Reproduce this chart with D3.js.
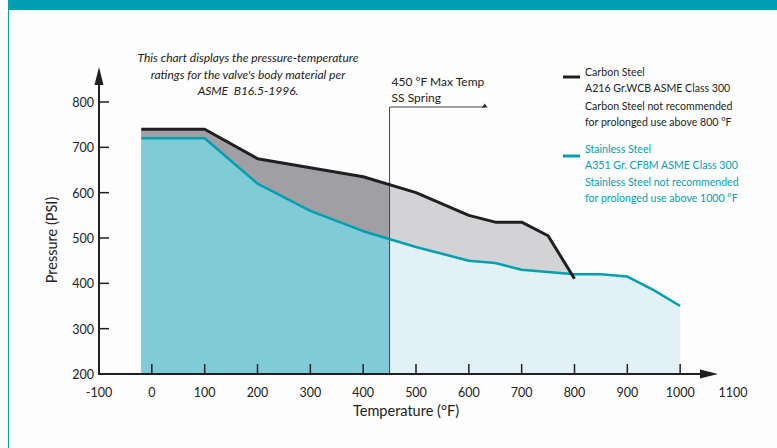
<!DOCTYPE html>
<html>
<head>
<meta charset="utf-8">
<script src="https://cdn.jsdelivr.net/npm/d3@7"></script>
<style>
	body { margin: 0; background: #fdfdfd; }
	svg text { font-family: Lato, "Open Sans", sans-serif; white-space: pre; }
</style>
</head>
<body>
<div id="chart"></div>
<script>
// pressure-temperature ratings, ASME class 300
var temps = [-20, 100, 200, 300, 400, 500, 600, 650, 700, 750, 800, 850, 900, 950, 1000];
var carbonTemps = [-20, 100, 200, 300, 400, 500, 600, 650, 700, 750, 800];
var carbonPsi = [740, 740, 675, 655, 635, 600, 550, 535, 535, 505, 410];
var stainlessPsi = [720, 720, 620, 560, 515, 480, 450, 445, 430, 425, 420, 420, 415, 385, 350];
var xTicks = [-100, 0, 100, 200, 300, 400, 500, 600, 700, 800, 900, 1000, 1100];
var yTicks = [200, 300, 400, 500, 600, 700, 800];
var springTemp = 450;

var noteLines = ["This chart displays the pressure-temperature",
	"ratings for the valve's body material per",
	"ASME  B16.5-1996."];
var carbonLegend = ["Carbon Steel", "A216 Gr.WCB ASME Class 300",
	"Carbon Steel not recommended", "for prolonged use above 800 °F"];
var stainlessLegend = ["Stainless Steel", "A351 Gr. CF8M ASME Class 300",
	"Stainless Steel not recommended", "for prolonged use above 1000 °F"];

var width = 777,
	height = 448;

var teal = '#00a0b2';

var svg = d3.select('#chart').append('svg')
	.attr('width', width)
	.attr('height', height);

// frame
svg.append('rect').attr('x', 8).attr('y', 0).attr('width', width - 8).attr('height', 10).style('fill', teal);
svg.append('line').attr('x1', 8.5).attr('x2', 8.5).attr('y1', 0).attr('y2', height)
	.style('stroke', teal).style('stroke-width', 1);

var x = d3.scaleLinear().domain([-100, 1100]).range([99, 733]);
var y = d3.scaleLinear().domain([200, 800]).range([374, 102]);

var carbon = carbonTemps.map(function (t, i) { return [t, carbonPsi[i]]; });
var stainless = temps.map(function (t, i) { return [t, stainlessPsi[i]]; });

var defs = svg.append('defs');
defs.append('clipPath').attr('id', 'left-part').append('rect')
	.attr('x', 0).attr('y', 0).attr('width', x(springTemp)).attr('height', height);

var area = d3.area()
	.x(function (d) { return x(d[0]); })
	.y0(y(200))
	.y1(function (d) { return y(d[1]); });

var line = d3.line()
	.x(function (d) { return x(d[0]); })
	.y(function (d) { return y(d[1]); });

// light versions, then darker part left of the spring limit
svg.append('path').attr('d', area(carbon)).style('fill', '#d3d3d5');
svg.append('path').attr('d', area(carbon)).style('fill', '#a0a0a4').attr('clip-path', 'url(#left-part)');
svg.append('path').attr('d', area(stainless)).style('fill', '#e1f1f5');
svg.append('path').attr('d', area(stainless)).style('fill', '#7fccd6').attr('clip-path', 'url(#left-part)');

// spring limit marker
var markY = 107;
svg.append('path')
	.attr('d', 'M' + x(springTemp) + ',' + y(200) + 'V' + markY + 'H' + x(630))
	.style('fill', 'none').style('stroke', '#444').style('stroke-width', 1);
svg.append('path')
	.attr('d', 'M' + (x(630) - 3) + ',' + (markY + 0.5) + 'l3,-4l3,4z')
	.style('fill', '#333');
svg.append('text').attr('x', x(springTemp) + 2).attr('y', 86).text('450 °F Max Temp')
	.style('font-size', '12px').style('fill', '#222');
svg.append('text').attr('x', x(springTemp) + 2).attr('y', 102).text('SS Spring')
	.style('font-size', '12px').style('fill', '#222');

svg.append('path').attr('d', line(stainless))
	.style('fill', 'none').style('stroke', teal).style('stroke-width', 2.5).style('stroke-linejoin', 'round');
svg.append('path').attr('d', line(carbon))
	.style('fill', 'none').style('stroke', '#231f20').style('stroke-width', 3).style('stroke-linejoin', 'round');

// axes
var axisColor = '#231f20';
svg.append('line').attr('x1', x(-100)).attr('x2', 703).attr('y1', y(200)).attr('y2', y(200))
	.style('stroke', axisColor).style('stroke-width', 2);
svg.append('path').attr('d', 'M700,' + (y(200) - 4.5) + 'L718,' + y(200) + 'L700,' + (y(200) + 4.5) + 'z')
	.style('fill', axisColor);
svg.append('line').attr('x1', x(-100)).attr('x2', x(-100)).attr('y1', y(200) + 1).attr('y2', 82)
	.style('stroke', axisColor).style('stroke-width', 2);
svg.append('path').attr('d', 'M' + (x(-100) - 4.5) + ',85L' + x(-100) + ',67L' + (x(-100) + 4.5) + ',85z')
	.style('fill', axisColor);

svg.selectAll('.xtick').data(xTicks.filter(function (t) { return t > -100 && t < 1100; }))
	.enter().append('line')
	.attr('x1', function (d) { return x(d); })
	.attr('x2', function (d) { return x(d); })
	.attr('y1', y(200))
	.attr('y2', y(200) - 10)
	.style('stroke', axisColor).style('stroke-width', 1.5);

svg.selectAll('.xlabel').data(xTicks)
	.enter().append('text')
	.attr('x', function (d) { return x(d); })
	.attr('y', 397)
	.attr('text-anchor', 'middle')
	.style('font-size', '12.5px').style('fill', '#222')
	.text(function (d) { return d; });

svg.selectAll('.ytick').data(yTicks.filter(function (t) { return t > 200; }))
	.enter().append('line')
	.attr('x1', x(-100))
	.attr('x2', x(-100) + 10)
	.attr('y1', function (d) { return y(d); })
	.attr('y2', function (d) { return y(d); })
	.style('stroke', axisColor).style('stroke-width', 1.5);

svg.selectAll('.ylabel').data(yTicks)
	.enter().append('text')
	.attr('x', x(-100) - 5)
	.attr('y', function (d) { return y(d) + 5; })
	.attr('text-anchor', 'end')
	.style('font-size', '12.5px').style('fill', '#222')
	.text(function (d) { return d; });

svg.append('text').attr('x', 406).attr('y', 416).attr('text-anchor', 'middle')
	.style('font-size', '14.5px').style('fill', '#222').text('Temperature (°F)');
svg.append('text').attr('transform', 'translate(57,240) rotate(-90)').attr('text-anchor', 'middle')
	.style('font-size', '14.5px').style('fill', '#222').text('Pressure (PSI)');

// note
svg.selectAll('.note').data(noteLines)
	.enter().append('text')
	.attr('x', 248)
	.attr('y', function (d, i) { return 62 + i * 16.5; })
	.attr('text-anchor', 'middle')
	.style('font-size', '12px').style('font-style', 'italic').style('fill', '#222')
	.text(function (d) { return d; });

// legend
svg.append('line').attr('x1', 563).attr('x2', 580).attr('y1', 77).attr('y2', 77)
	.style('stroke', '#231f20').style('stroke-width', 3);
svg.selectAll('.leg1').data(carbonLegend)
	.enter().append('text')
	.attr('x', 585)
	.attr('y', function (d, i) { return 76 + i * 16.3 + (i > 1 ? 1 : 0); })
	.style('font-size', '10.6px').style('fill', '#231f20')
	.text(function (d) { return d; });

svg.append('line').attr('x1', 563).attr('x2', 580).attr('y1', 156).attr('y2', 156)
	.style('stroke', teal).style('stroke-width', 3);
svg.selectAll('.leg2').data(stainlessLegend)
	.enter().append('text')
	.attr('x', 585)
	.attr('y', function (d, i) { return 153 + i * 16 + (i > 1 ? 1 : 0); })
	.style('font-size', '10.6px').style('fill', teal)
	.text(function (d) { return d; });
</script>
</body>
</html>
